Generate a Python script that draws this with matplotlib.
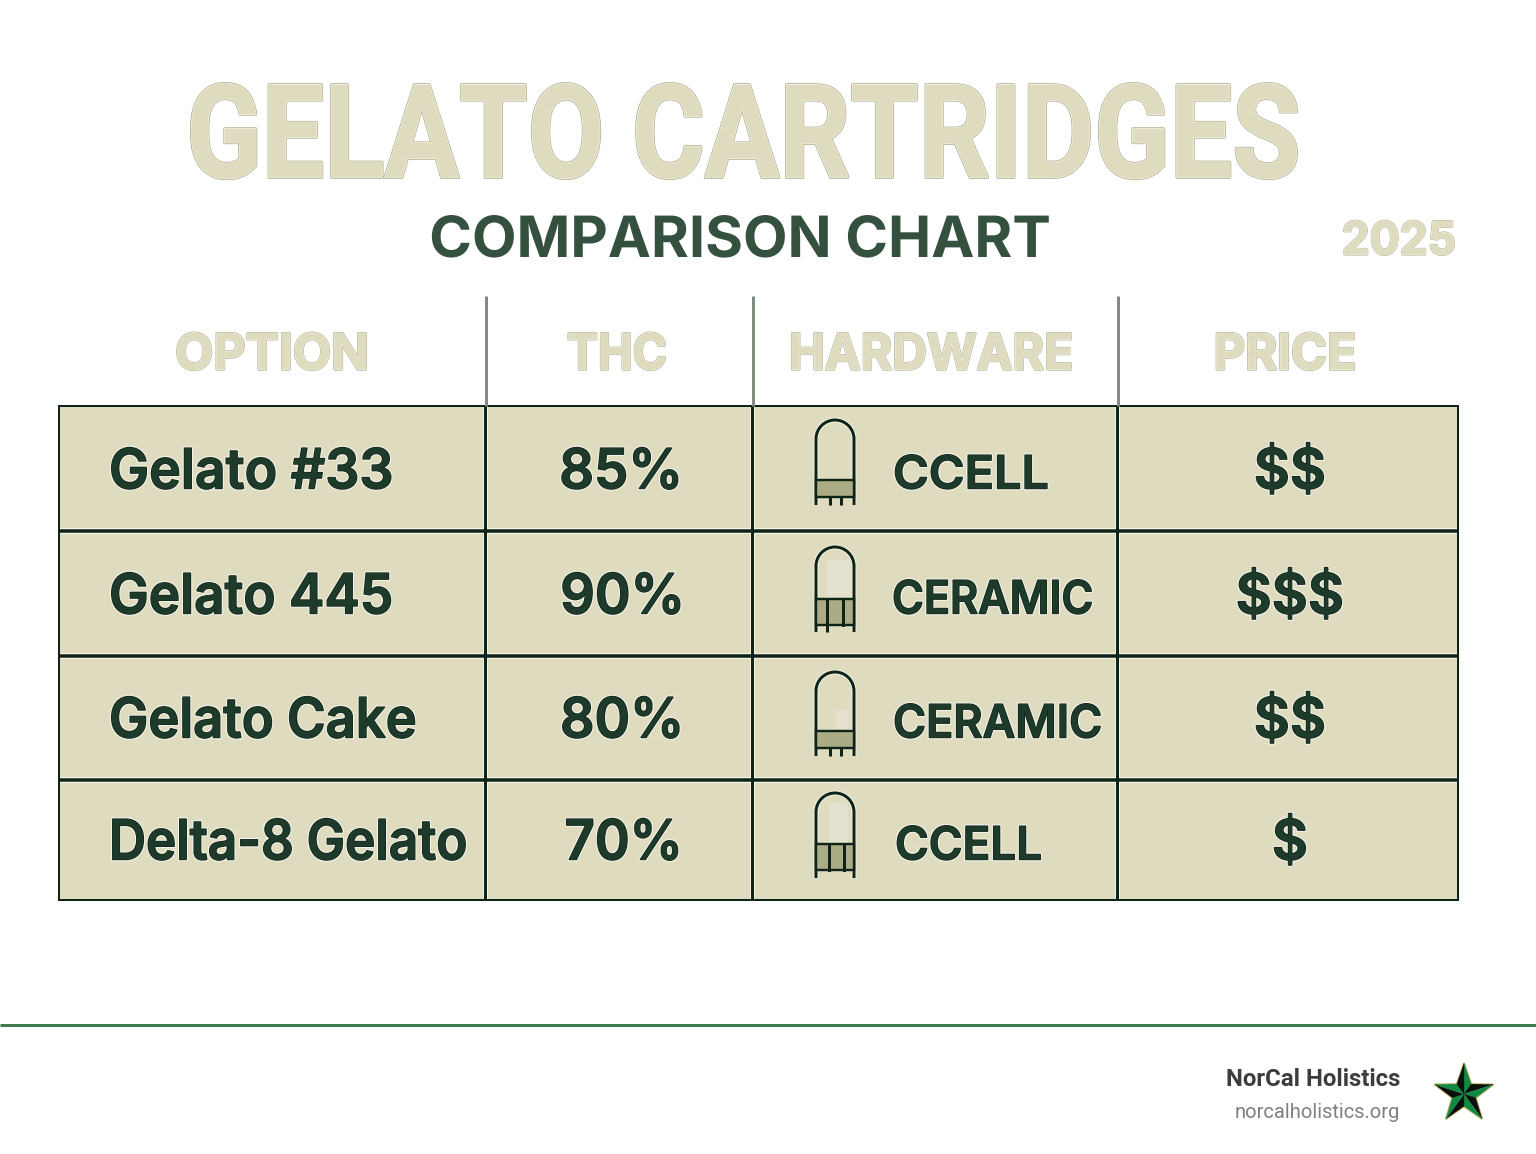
import matplotlib

matplotlib.use("Agg")
import matplotlib.patheffects as pe
import matplotlib.pyplot as plt
import numpy as np
from matplotlib.patches import PathPatch, Polygon, Rectangle
from matplotlib.path import Path
from matplotlib.transforms import Affine2D

options = ["Gelato #33", "Gelato 445", "Gelato Cake", "Delta-8 Gelato"]
thc = ["85%", "90%", "80%", "70%"]
hardware = ["CCELL", "CERAMIC", "CERAMIC", "CCELL"]
price = ["$$", "$$$", "$$", "$"]
headers = ["OPTION", "THC", "HARDWARE", "PRICE"]

# layout, in pixels of the reference
col_edges = [59, 485, 752, 1117, 1458]
row_edges = [406, 531, 656, 780, 900]
header_x = [272, 617, 931, 1285]
header_squash = [0.995, 0.93, 0.96, 0.975]
row_text_y = [468, 593, 717, 839]
option_squash = [0.965, 0.956, 0.945, 0.922]
thc_x = [621, 622.5, 622, 623.5]
thc_squash = [0.98, 0.975, 0.97, 0.95]
hw_x = [893, 892, 893, 895]
hw_squash = [1.06, 0.943, 0.98, 1.0]
price_x = 1290
icon_top = [420, 547, 672, 793]
icon_band = [(480, 497), (599, 625), (731, 748), (844, 870)]
icon_bottom = [505, 632, 756, 878]
icon_dividers = [[], [827, 843], [], [829, 844]]
icon_pins = [[830, 841], [827], [830, 841], []]
icon_glass = [None, (827, 850, 560, 597), (836, 848, 710, 729), (829, 848, 803, 843)]

DARK = "#1D3A2B"
EDGE = "#0F2419"
PALE = "#DEDBBF"
OLIVE = "#A9A987"
HALO = "#F4F3E6"
BODY = ["Inter", "Roboto", "DejaVu Sans"]
ROBOTO = ["Roboto", "DejaVu Sans"]


def px(width):
    return width * 0.72


class SquashX(pe.AbstractPathEffect):
    # scales the glyph outlines sideways around one x, the faces here are too wide
    def __init__(self, anchor, factor, effects):
        super().__init__()
        self.anchor = anchor
        self.factor = factor
        self.effects = effects

    def draw_path(self, renderer, gc, tpath, affine, rgbFace=None):
        squeezed = affine + Affine2D().translate(-self.anchor, 0).scale(self.factor, 1).translate(self.anchor, 0)
        for effect in self.effects:
            effect.draw_path(renderer, gc, tpath, squeezed, rgbFace)


def pale_text(ax, x, y, text, size, family, factor=1.0, edge=1.6):
    anchor = ax.transData.transform((x, y))[0]
    ax.text(
        x, y, text, fontsize=size, family=family, weight="bold", color=PALE,
        ha="center", va="center_baseline",
        path_effects=[SquashX(anchor, factor, [
            pe.Stroke(linewidth=edge, foreground=OLIVE),
            pe.Stroke(linewidth=edge * 0.5, foreground=HALO),
            pe.Normal(),
        ])],
    )


def dark_text(ax, x, y, text, size, ha="center", factor=1.0):
    anchor = ax.transData.transform((x, y))[0]
    ax.text(
        x, y, text, fontsize=size, family=BODY, weight="semibold", color=DARK,
        ha=ha, va="center_baseline", parse_math=False,
        path_effects=[SquashX(anchor, factor, [
            pe.Stroke(linewidth=2.6, foreground=HALO),
            pe.Stroke(linewidth=1.0, foreground=EDGE),
            pe.Normal(),
        ])],
    )


def draw_cart(ax, row):
    left, right = 816, 854
    top = icon_top[row]
    band = icon_band[row]
    bottom = icon_bottom[row]
    cx = (left + right) / 2
    radius = (right - left) / 2
    if icon_glass[row]:
        x0, x1, y0, y1 = icon_glass[row]
        ax.add_patch(Rectangle((x0, y0), x1 - x0, y1 - y0, fc="#E4E2CF", ec="none", zorder=2))
    dome = Path.arc(180, 360).transformed(Affine2D().scale(radius).translate(cx, top + radius))
    verts = np.vstack([[(left, bottom)], dome.vertices, [(right, bottom)]])
    codes = [Path.MOVETO, Path.LINETO] + list(dome.codes[1:]) + [Path.LINETO]
    ax.add_patch(PathPatch(Path(verts, codes), fc="none", ec=EDGE, lw=px(3), capstyle="butt", zorder=2.5,
                           path_effects=[pe.withStroke(linewidth=px(5), foreground=HALO)]))
    ax.add_patch(Rectangle((left, band[0]), right - left, band[1] - band[0],
                           fc="#ABAB85", ec=EDGE, lw=px(2.4), zorder=3))
    for x in icon_dividers[row]:
        ax.plot([x, x], [band[0], band[1]], color=EDGE, lw=px(3), zorder=4)
    for x in icon_pins[row]:
        ax.plot([x, x], [band[1], bottom], color=EDGE, lw=px(3), solid_capstyle="butt", zorder=4)


def draw_star(ax, cx, cy, radius):
    angles = np.deg2rad(-90 + np.arange(10) * 36)
    radii = np.where(np.arange(10) % 2 == 0, radius, radius * 0.40)
    xs = cx + radii * np.cos(angles)
    ys = cy + radii * np.sin(angles)
    ax.add_patch(Polygon(np.column_stack([xs, ys]), closed=True, fc="none", ec="#C9B26B",
                         lw=px(2.2), joinstyle="round"))
    for i in range(10):
        j = (i + 1) % 10
        color = "#0F8A43" if i % 2 == 0 else "#0A0F0B"
        ax.add_patch(Polygon([(cx, cy), (xs[i], ys[i]), (xs[j], ys[j])], closed=True, fc=color, ec=color, lw=0.2))


fig = plt.figure(figsize=(15.36, 11.54), dpi=100, facecolor="white")
ax = fig.add_axes([0, 0, 1, 1])
ax.set_xlim(0, 1536)
ax.set_ylim(1154, 0)
ax.axis("off")

pale_text(ax, 743, 128, "GELATO CARTRIDGES", 94, ROBOTO, factor=0.85, edge=2.0)
title_anchor = ax.transData.transform((740, 236))[0]
ax.text(740, 236, "COMPARISON CHART", fontsize=41, family=BODY, weight="bold", color="#34503F",
        ha="center", va="center_baseline",
        path_effects=[SquashX(title_anchor, 1.015, [pe.Normal()])])
pale_text(ax, 1399, 238, "2025", 33, BODY, factor=0.97, edge=1.4)

table_w = col_edges[-1] - col_edges[0]
table_h = row_edges[-1] - row_edges[0]
ax.add_patch(Rectangle((col_edges[0], row_edges[0]), table_w, table_h, fc=PALE, ec="none", zorder=0))
for x in col_edges[1:-1]:
    ax.plot([x + 1, x + 1], [296, row_edges[0]], color="#7F8C7F", lw=px(3), solid_capstyle="butt")
    ax.plot([x, x], [row_edges[0], row_edges[-1]], color=HALO, lw=px(5), solid_capstyle="butt", zorder=1)
    ax.plot([x, x], [row_edges[0], row_edges[-1]], color=EDGE, lw=px(3), solid_capstyle="butt", zorder=1.2)
for y in row_edges[1:-1]:
    ax.plot([col_edges[0], col_edges[-1]], [y, y], color=HALO, lw=px(6), solid_capstyle="butt", zorder=1)
    ax.plot([col_edges[0], col_edges[-1]], [y, y], color=EDGE, lw=px(3.5), solid_capstyle="butt", zorder=1.2)
ax.add_patch(Rectangle((col_edges[0], row_edges[0]), table_w, table_h, fc="none", ec=EDGE, lw=px(2), zorder=1.5))

for x, label, factor in zip(header_x, headers, header_squash):
    pale_text(ax, x, 351, label, 36, BODY, factor=factor, edge=1.6)

for i in range(len(options)):
    y = row_text_y[i]
    dark_text(ax, 109, y, options[i], 40, ha="left", factor=option_squash[i])
    dark_text(ax, thc_x[i], y, thc[i], 40, factor=thc_squash[i])
    dark_text(ax, hw_x[i], y + 4, hardware[i], 33, ha="left", factor=hw_squash[i])
    dark_text(ax, price_x, y, price[i], 40)
    draw_cart(ax, i)

ax.plot([0, 1536], [1025, 1025], color="#3F7A50", lw=px(3), solid_capstyle="butt")
ax.text(1400, 1077, "NorCal Holistics", fontsize=17.3, family=ROBOTO, weight="bold",
        color="#3D3D3D", ha="right", va="center_baseline")
ax.text(1400, 1110, "norcalholistics.org", fontsize=14.5, family=ROBOTO,
        color="#808080", ha="right", va="center_baseline")
draw_star(ax, 1464, 1094, 30.5)

fig.savefig("out.png", dpi=100)
plt.close(fig)
